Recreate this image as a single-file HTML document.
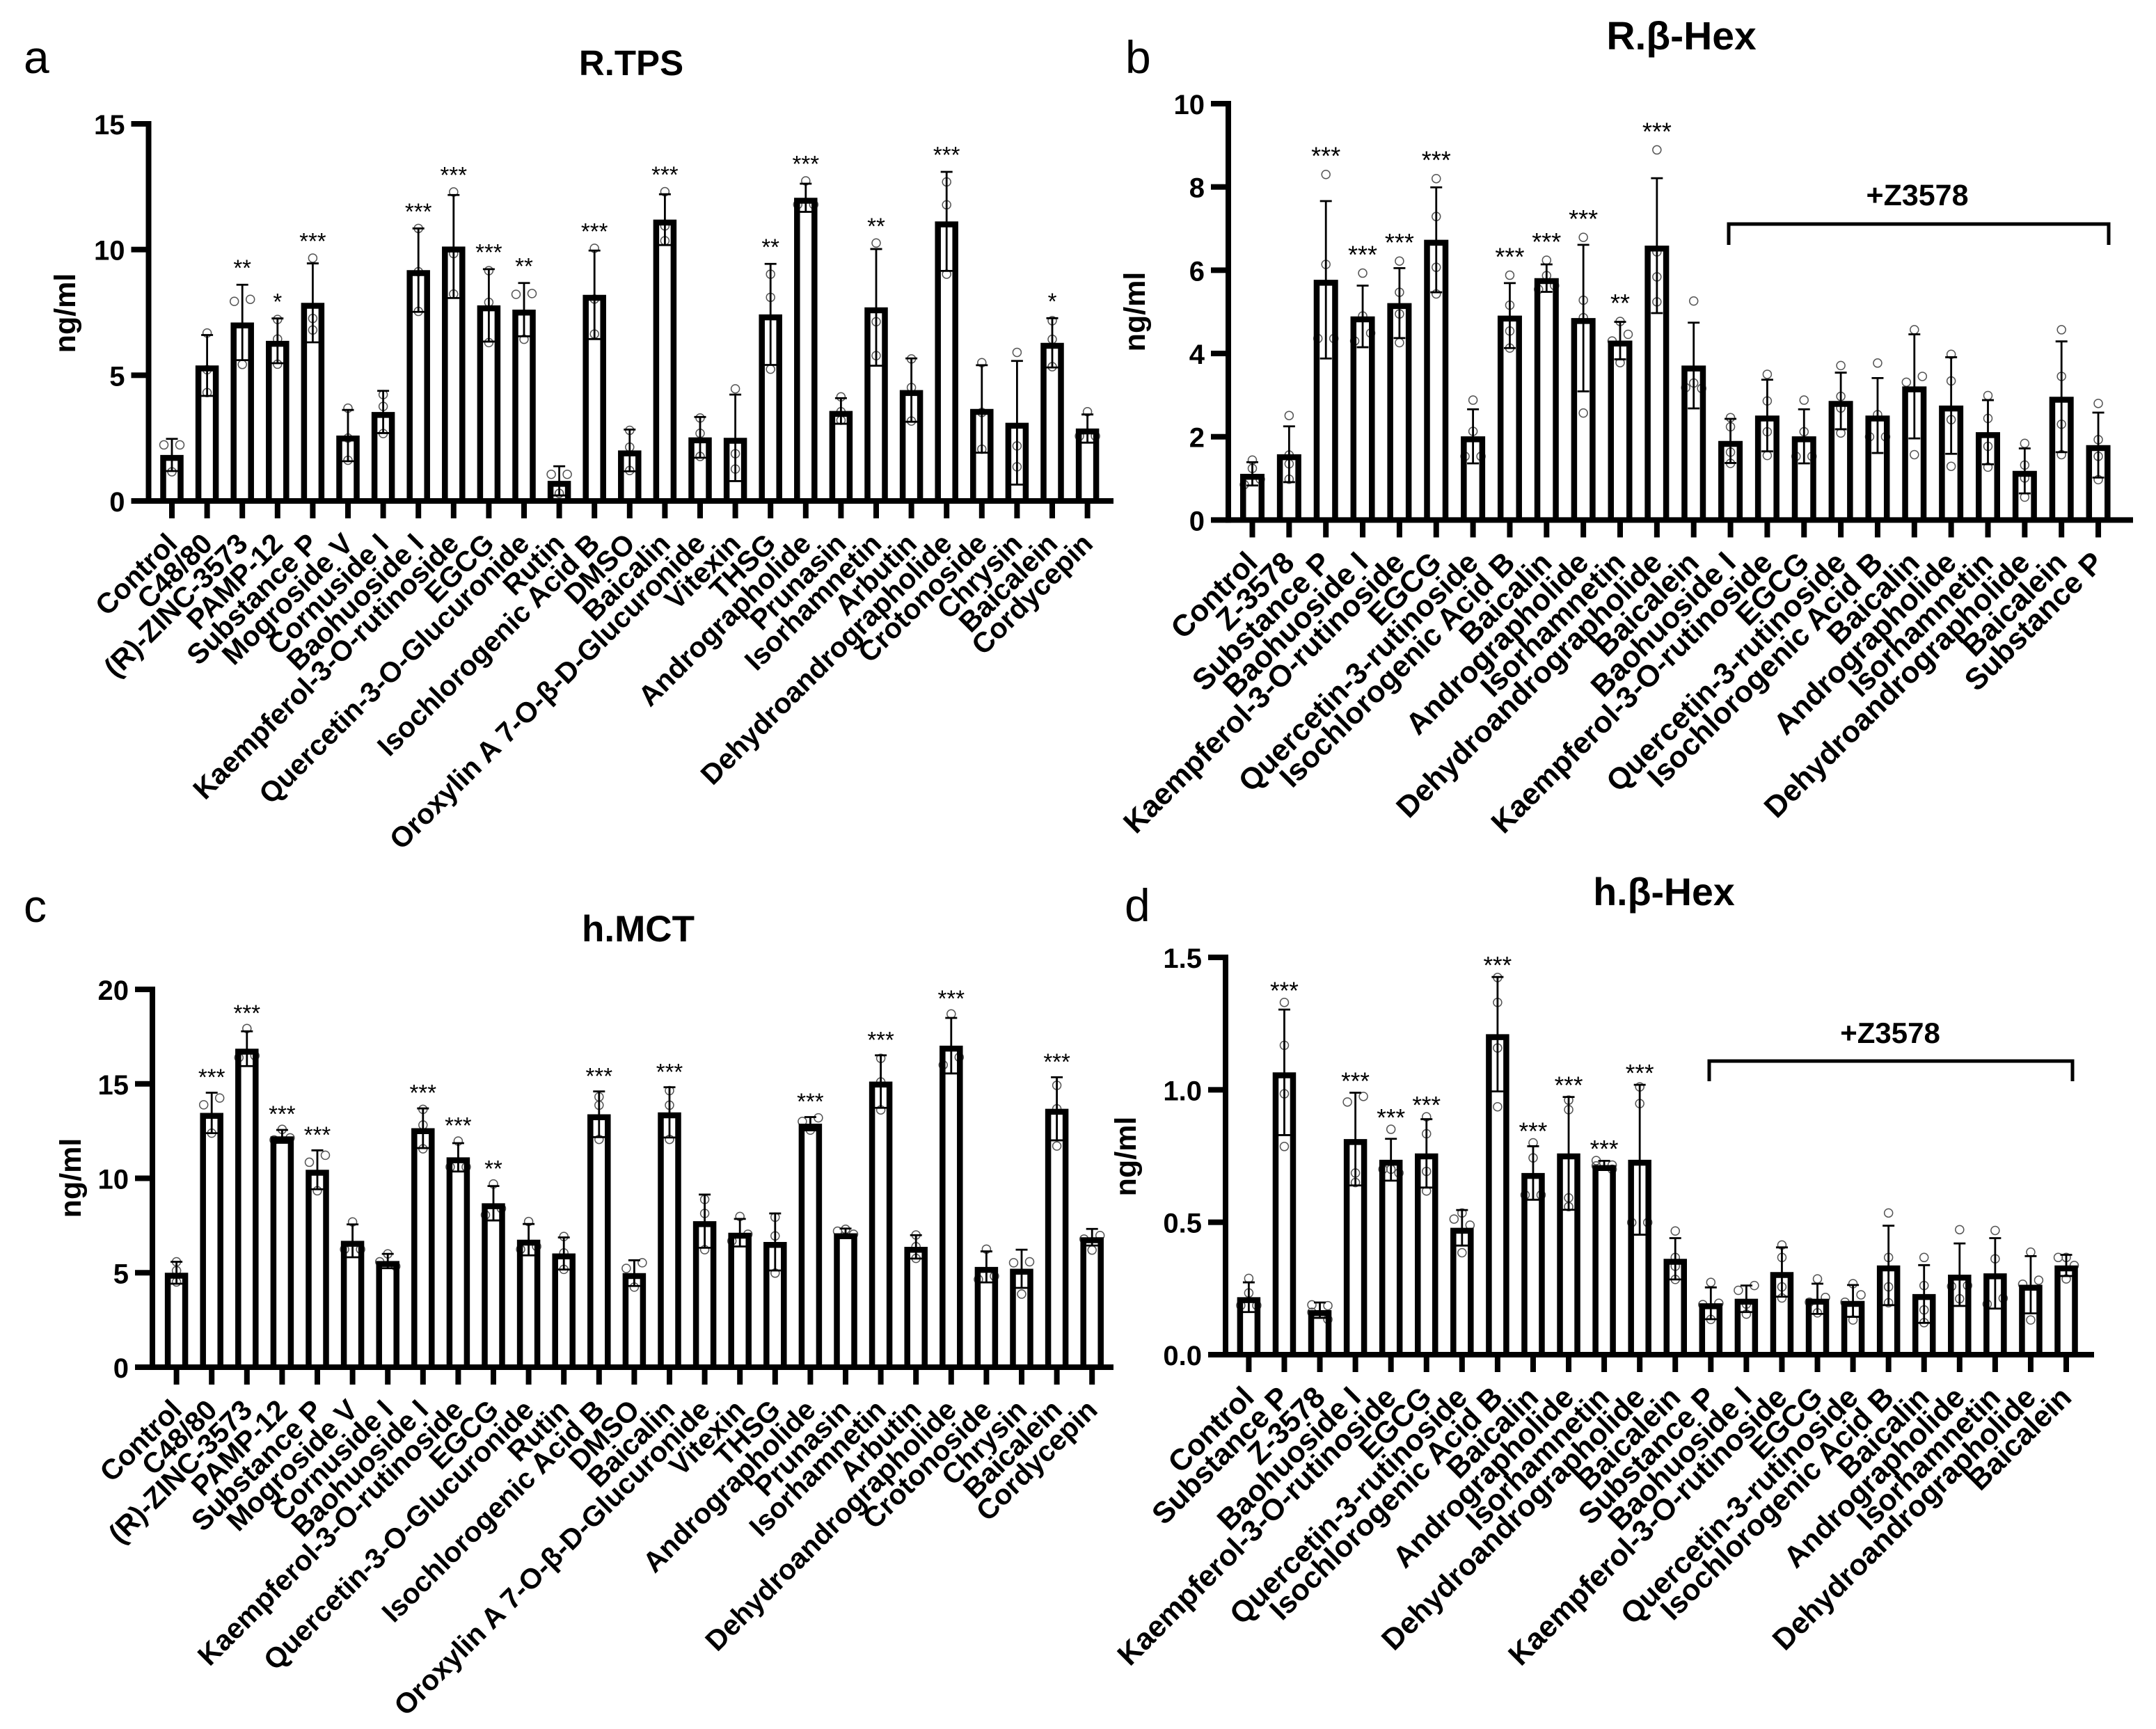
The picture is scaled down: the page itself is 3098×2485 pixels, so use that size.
<!DOCTYPE html>
<html lang="en">
<head>
<meta charset="utf-8">
<title>Degranulation marker bar charts</title>
<style>
html,body{margin:0;padding:0;background:#fff;}
svg{display:block;}
text{font-family:"Liberation Sans",Arial,sans-serif;fill:#000;}
.bold{font-weight:700;}
</style>
</head>
<body>
<svg id="figure" xmlns="http://www.w3.org/2000/svg" width="3098" height="2485" viewBox="0 0 3098 2485">
  <rect x="0" y="0" width="3098" height="2485" fill="#fff"/>

  <g id="panel-a">
    <text x="34" y="105" font-size="66">a</text>
    <text class="bold" x="907" y="108" font-size="51" text-anchor="middle">R.TPS</text>
    <text class="bold" font-size="43" text-anchor="middle" transform="translate(108 450) rotate(-90)">ng/ml</text>
  </g>

  <g id="panel-b">
    <text x="1617" y="105" font-size="66">b</text>
    <text class="bold" x="2416" y="71" font-size="57" text-anchor="middle">R.β-Hex</text>
    <text class="bold" font-size="43" text-anchor="middle" transform="translate(1645 448) rotate(-90)">ng/ml</text>
    <path d="M2484 352V322H3030V352" fill="none" stroke="#000" stroke-width="5"/>
    <text class="bold" x="2755" y="295" font-size="43" text-anchor="middle">+Z3578</text>
  </g>

  <g id="panel-c">
    <text x="34" y="1325" font-size="66">c</text>
    <text class="bold" x="917" y="1353" font-size="53" text-anchor="middle">h.MCT</text>
    <text class="bold" font-size="43" text-anchor="middle" transform="translate(116 1693) rotate(-90)">ng/ml</text>
  </g>

  <g id="panel-d">
    <text x="1616" y="1324" font-size="66">d</text>
    <text class="bold" x="2391" y="1301" font-size="55.5" text-anchor="middle">h.β-Hex</text>
    <text class="bold" font-size="43" text-anchor="middle" transform="translate(1632 1662) rotate(-90)">ng/ml</text>
    <path d="M2456 1554V1525H2978V1554" fill="none" stroke="#000" stroke-width="5"/>
    <text class="bold" x="2716" y="1499" font-size="42" text-anchor="middle">+Z3578</text>
  </g>
</svg>

<script>
// ---- Panel a: R.TPS ----
const aCategories = ["Control","C48/80","(R)-ZINC-3573","PAMP-12","Substance P","Mogroside V","Cornuside I","Baohuoside I","Kaempferol-3-O-rutinoside","EGCG","Quercetin-3-O-Glucuronide","Rutin","Isochlorogenic Acid B","DMSO","Baicalin","Oroxylin A 7-O-β-D-Glucuronide","Vitexin","THSG","Andrographolide","Prunasin","Isorhamnetin","Arbutin","Dehydroandrographolide","Crotonoside","Chrysin","Baicalein","Cordycepin"];
const aMeans = [1.83,5.39,7.1,6.37,7.88,2.6,3.54,9.18,10.12,7.78,7.61,0.8,8.2,2.01,11.19,2.53,2.51,7.42,12.06,3.58,7.7,4.41,11.12,3.66,3.11,6.29,2.88];
const aSds = [0.64,1.21,1.5,0.89,1.57,1.02,0.84,1.66,2.05,1.44,1.06,0.58,1.76,0.83,1.01,0.81,1.72,2.01,0.56,0.51,2.32,1.26,1.97,1.74,2.46,0.98,0.56];
const aPoints = [[2.23,2.23,1.16],[6.68,5.22,4.31],[8.02,7.94,5.43],[7.22,6.44,5.44],[9.66,7.26,6.8],[3.69,2.5,1.62],[4.23,3.76,2.68],[10.84,9.12,7.54],[12.29,9.84,8.23],[9.16,7.9,6.3],[8.25,8.22,6.43],[1.06,1.06,0.3],[10.05,8.03,6.64],[2.81,2.14,1.21],[12.3,10.94,10.35],[3.3,2.69,1.77],[4.46,1.88,1.27],[9.02,8.1,5.24],[12.73,11.79,11.79],[4.14,3.55,3.21],[10.26,7.13,5.78],[5.65,4.51,3.18],[12.69,11.78,9.02],[5.5,3.52,2.06],[5.91,2.19,1.36],[7.17,6.43,5.34],[3.55,2.58,2.58]];
const aSignificance = ["","","**","*","***","","","***","***","***","**","","***","","***","","","**","***","","**","","***","","","*",""];
const aTicks = ["0","5","10","15"];

// ---- Panel b: R.beta-Hex ----
const bCategories = ["Control","Z-3578","Substance P","Baohuoside I","Kaempferol-3-O-rutinoside","EGCG","Quercetin-3-rutinoside","Isochlorogenic Acid B","Baicalin","Andrographolide","Isorhamnetin","Dehydroandrographolide","Baicalein","Baohuoside I","Kaempferol-3-O-rutinoside","EGCG","Quercetin-3-rutinoside","Isochlorogenic Acid B","Baicalin","Andrographolide","Isorhamnetin","Dehydroandrographolide","Baicalein","Substance P"];
const bMeans = [1.11,1.58,5.77,4.89,5.21,6.73,2.01,4.91,5.81,4.85,4.31,6.59,3.71,1.9,2.51,2.01,2.86,2.51,3.21,2.75,2.11,1.18,2.96,1.8];
const bSds = [0.28,0.67,1.89,0.74,0.84,1.26,0.65,0.78,0.33,1.76,0.45,1.62,1.03,0.53,0.86,0.65,0.68,0.9,1.25,1.16,0.77,0.54,1.33,0.78];
const bPoints = [[1.44,1.24,0.98,0.85],[2.51,1.56,1.35,0.98],[8.3,6.14,4.36,4.36],[5.93,4.9,4.49,4.3],[6.22,5.47,4.95,4.26],[8.2,7.29,6.07,5.43],[2.88,2.13,1.53,1.53],[5.88,5.16,4.54,4.13],[6.24,5.87,5.63,5.54],[6.79,5.28,4.86,2.57],[4.77,4.46,4.3,3.78],[8.89,6.44,5.84,5.24],[5.26,3.29,3.18,3.16],[2.46,2.24,1.63,1.36],[3.5,2.86,2.12,1.55],[2.88,2.12,1.53,1.53],[3.71,2.97,2.69,2.09],[3.77,2.53,2.0,2.0],[4.57,3.45,3.31,1.57],[3.98,3.34,2.41,1.29],[2.99,2.44,1.77,1.27],[1.84,1.32,1.01,0.55],[4.57,3.45,2.3,1.57],[2.8,1.93,1.53,0.97]];
const bSignificance = ["","","***","***","***","***","","***","***","***","**","***","","","","","","","","","","","",""];
const bTicks = ["0","2","4","6","8","10"];

// ---- Panel c: h.MCT ----
const cCategories = ["Control","C48/80","(R)-ZINC-3573","PAMP-12","Substance P","Mogroside V","Cornuside I","Baohuoside I","Kaempferol-3-O-rutinoside","EGCG","Quercetin-3-O-Glucuronide","Rutin","Isochlorogenic Acid B","DMSO","Baicalin","Oroxylin A 7-O-β-D-Glucuronide","Vitexin","THSG","Andrographolide","Prunasin","Isorhamnetin","Arbutin","Dehydroandrographolide","Crotonoside","Chrysin","Baicalein","Cordycepin"];
const cMeans = [5.0,13.46,16.86,12.22,10.45,6.69,5.62,12.65,11.11,8.68,6.75,6.02,13.39,4.98,13.49,7.73,7.12,6.63,12.89,7.09,15.12,6.37,17.02,5.31,5.21,13.68,6.88];
const cSds = [0.58,1.07,0.92,0.34,1.03,0.87,0.38,1.05,0.75,0.91,0.83,0.85,1.21,0.68,1.33,1.41,0.73,1.51,0.35,0.25,1.39,0.62,1.47,0.82,1.01,1.67,0.44];
const cPoints = [[5.58,5.11,4.51],[14.25,13.89,12.39],[17.93,16.49,16.39],[12.59,12.14,12.03],[11.22,10.85,9.34],[7.69,6.24,6.24],[6.0,5.58,5.34],[13.65,12.82,11.56],[11.97,10.6,10.6],[9.7,8.4,8.06],[7.71,6.39,6.24],[6.92,6.05,5.18],[14.31,13.87,12.06],[5.53,5.23,4.24],[14.64,13.87,12.06],[8.88,8.14,6.22],[7.98,7.04,6.68],[7.94,6.95,4.98],[13.2,13.01,12.55],[7.3,7.2,7.04],[16.35,15.1,13.62],[7.0,6.38,5.76],[18.7,16.41,16.0],[6.25,4.82,4.65],[5.58,5.53,3.87],[14.92,13.68,11.71],[6.97,6.78,6.2]];
const cSignificance = ["","***","***","***","***","","","***","***","**","","","***","","***","","","","***","","***","","***","","","***",""];
const cTicks = ["0","5","10","15","20"];

// ---- Panel d: h.beta-Hex ----
const dCategories = ["Control","Substance P","Z-3578","Baohuoside I","Kaempferol-3-O-rutinoside","EGCG","Quercetin-3-rutinoside","Isochlorogenic Acid B","Baicalin","Andrographolide","Isorhamnetin","Dehydroandrographolide","Baicalein","Substance P","Baohuoside I","Kaempferol-3-O-rutinoside","EGCG","Quercetin-3-rutinoside","Isochlorogenic Acid B","Baicalin","Andrographolide","Isorhamnetin","Dehydroandrographolide","Baicalein"];
const dMeans = [0.217,1.066,0.168,0.814,0.736,0.76,0.479,1.21,0.686,0.76,0.716,0.736,0.362,0.194,0.211,0.312,0.211,0.203,0.337,0.229,0.302,0.307,0.264,0.337];
const dSds = [0.056,0.237,0.029,0.175,0.079,0.129,0.067,0.216,0.101,0.213,0.016,0.283,0.078,0.06,0.05,0.093,0.057,0.06,0.15,0.109,0.118,0.133,0.108,0.04];
const dPoints = [[0.288,0.233,0.186,0.186],[1.33,1.168,0.985,0.786],[0.188,0.185,0.16,0.133],[0.975,0.954,0.686,0.65],[0.851,0.7,0.7,0.686],[0.898,0.834,0.692,0.618],[0.535,0.512,0.489,0.385],[1.424,1.33,1.158,0.936],[0.8,0.743,0.603,0.603],[0.961,0.925,0.592,0.559],[0.733,0.716,0.713,0.7],[1.011,0.948,0.499,0.499],[0.467,0.367,0.334,0.284],[0.273,0.194,0.189,0.133],[0.261,0.243,0.191,0.153],[0.414,0.367,0.256,0.214],[0.286,0.216,0.198,0.158],[0.268,0.226,0.198,0.131],[0.535,0.367,0.256,0.196],[0.367,0.261,0.169,0.121],[0.472,0.261,0.258,0.211],[0.469,0.362,0.213,0.191],[0.387,0.281,0.266,0.131],[0.367,0.367,0.337,0.286]];
const dSignificance = ["","***","","***","***","***","","***","***","***","***","***","","","","","","","","","","","",""];
const dTicks = ["0.0","0.5","1.0","1.5"];

const SVG_NS = "http://www.w3.org/2000/svg";

function el(tag, attrs, parent) {
  const node = document.createElementNS(SVG_NS, tag);
  for (const k in attrs) node.setAttribute(k, attrs[k]);
  parent.appendChild(node);
  return node;
}

// Beeswarm: points closer than a dot height spread sideways around the bar centre.
function swarmOffsets(ys, minGap, step) {
  const order = ys.map((y, i) => i).sort((p, q) => ys[p] - ys[q]);
  const offsets = ys.map(() => 0);
  let cluster = [];
  const flush = () => {
    const n = cluster.length;
    if (n === 2) { offsets[cluster[0]] = step; offsets[cluster[1]] = -step; }
    if (n === 3) { offsets[cluster[0]] = 0; offsets[cluster[1]] = -step; offsets[cluster[2]] = step; }
    if (n >= 4) cluster.forEach((c, k) => { offsets[c] = (k % 2 ? 1 : -1) * step; });
  };
  order.forEach((idx, k) => {
    if (k > 0 && ys[idx] - ys[order[k - 1]] >= minGap) { flush(); cluster = []; }
    cluster.push(idx);
  });
  flush();
  return offsets;
}

function drawPanel(id, cfg, categories, means, sds, points, significance, ticks) {
  const root = document.getElementById(id);
  const yMax = Number(ticks[ticks.length - 1]);
  const yScale = v => cfg.y0 - v * (cfg.y0 - cfg.yTop) / yMax;
  const xScale = i => cfg.x0 + i * cfg.dx;
  const AXIS = 8, TICK = 25, BAR_STROKE = 8.5;

  const dotsLayer = el("g", {}, root);
  
  
  const barsLayer = el("g", {}, root);
  
  
  const errLayer = el("g", {}, root);
  
  
  const axisLayer = el("g", {}, root);
  
  

  categories.forEach((name, i) => {
    const cx = xScale(i);
    const topOuter = yScale(means[i]);
    const half = (cfg.barW - BAR_STROKE) / 2;

    const pys = points[i].map(yScale);
    const offs = swarmOffsets(pys, 11.5, 11.5);
    pys.forEach((py, k) => {
      const dot = el("circle", { cx: cx + offs[k], cy: py, r: 6, fill: "none", stroke: "#555", "stroke-width": 1.5 }, dotsLayer);
      
      
    });

    const bar = el("path", {
      d: `M${cx - half} ${cfg.y0}V${topOuter + BAR_STROKE / 2}H${cx + half}V${cfg.y0}`,
      fill: "none", stroke: "#000", "stroke-width": BAR_STROKE
    }, barsLayer);
    
    

    const capTop = yScale(means[i] + sds[i]);
    const capBot = yScale(means[i] - sds[i]);
    const err = el("path", {
      d: `M${cx} ${capTop}V${capBot}M${cx - 8.5} ${capTop}H${cx + 8.5}M${cx - 8.5} ${capBot}H${cx + 8.5}`,
      fill: "none", stroke: "#000", "stroke-width": 2.8
    }, errLayer);
    
    

    if (significance[i]) {
      const highest = Math.min(capTop, ...pys);
      const star = el("text", {
        x: cx, y: highest - cfg.starGap + 0.58 * cfg.starSize,
        "font-size": cfg.starSize, "text-anchor": "middle"
      }, root);
      star.textContent = significance[i];
      
      
    }

    const tick = el("rect", { x: cx - AXIS / 2, y: cfg.y0, width: AXIS, height: TICK, fill: "#000" }, axisLayer);
    
    

    const lx = cx + 10, ly = cfg.y0 + 64;
    const label = el("text", {
      "class": "bold", "font-size": cfg.labelSize, "text-anchor": "end",
      transform: `translate(${lx} ${ly}) rotate(-45)`
    }, root);
    label.textContent = name;
    
    
  });

  const xAxis = el("rect", { x: cfg.spineX - AXIS / 2, y: cfg.y0 - AXIS / 2, width: cfg.xEnd - cfg.spineX + AXIS / 2, height: AXIS, fill: "#000" }, axisLayer);
  
  

  const spine = el("rect", { x: cfg.spineX - AXIS / 2, y: cfg.yTop - AXIS / 2, width: AXIS, height: cfg.y0 - cfg.yTop + AXIS, fill: "#000" }, axisLayer);
  
  

  ticks.forEach(t => {
    const ty = yScale(Number(t));
    const yTick = el("rect", { x: cfg.spineX - 25, y: ty - AXIS / 2, width: 25, height: AXIS, fill: "#000" }, axisLayer);
    
    
    const yLabel = el("text", {
      "class": "bold", x: cfg.spineX - 34, y: ty + 15, "font-size": 40, "text-anchor": "end"
    }, root);
    yLabel.textContent = t;
    
    
  });
}

drawPanel("panel-a", { x0: 247, dx: 50.6, barW: 33.5, y0: 720, yTop: 178, spineX: 213.5, xEnd: 1600, starGap: 32, starSize: 33, labelSize: 41 }, aCategories, aMeans, aSds, aPoints, aSignificance, aTicks);
drawPanel("panel-b", { x0: 1799.5, dx: 52.85, barW: 35, y0: 747.4, yTop: 149, spineX: 1765, xEnd: 3065, starGap: 35, starSize: 36, labelSize: 43.4 }, bCategories, bMeans, bSds, bPoints, bSignificance, bTicks);
drawPanel("panel-c", { x0: 253.6, dx: 50.6, barW: 33.5, y0: 1965, yTop: 1422, spineX: 219, xEnd: 1600, starGap: 30, starSize: 33, labelSize: 41 }, cCategories, cMeans, cSds, cPoints, cSignificance, cTicks);
drawPanel("panel-d", { x0: 1794.4, dx: 51.07, barW: 33.5, y0: 1947, yTop: 1376, spineX: 1761, xEnd: 3009, starGap: 25, starSize: 35, labelSize: 43 }, dCategories, dMeans, dSds, dPoints, dSignificance, dTicks);
</script>
</body>
</html>
